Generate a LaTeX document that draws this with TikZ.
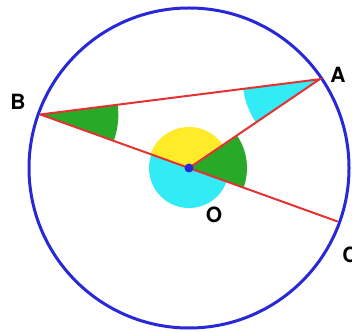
\documentclass[tikz,border=0pt]{standalone}
\usepackage{fontspec}
\setmainfont{TeX Gyre Heros}
\usetikzlibrary{calc}
\definecolor{ringblue}{RGB}{40,40,215}
\definecolor{chordred}{RGB}{228,50,50}
\definecolor{wedgegreen}{RGB}{40,170,40}
\definecolor{wedgecyan}{RGB}{50,235,245}
\definecolor{wedgeyellow}{RGB}{255,235,40}

\begin{document}
\begin{tikzpicture}[x=1pt, y=1pt,
    chord/.style={draw=chordred, line width=2pt},
    lbl/.style={font=\bfseries\fontsize{21}{21}\selectfont, inner sep=0pt}]
    \useasboundingbox (0,0) rectangle (352,331);
    \coordinate (O) at (189,163);
    \coordinate (A) at ($(O)+(34.2:158)$);
    \coordinate (B) at ($(O)+(160.2:158)$);
    \coordinate (C) at ($(O)+(-19.8:158)$);
    % angle wedges
    \fill[wedgeyellow] (O) -- +(34.2:41) arc[start angle=34.2, end angle=160.2, radius=41] -- cycle;
    \fill[wedgecyan] (O) -- +(160.2:40) arc[start angle=160.2, end angle=340.2, radius=40] -- cycle;
    \fill[wedgegreen] (O) -- +(-19.8:58) arc[start angle=-19.8, end angle=34.2, radius=58] -- cycle;
    \fill[wedgegreen] (B) -- +(-19.8:78) arc[start angle=-19.8, end angle=7.2, radius=78] -- cycle;
    \fill[wedgecyan] (A) -- +(187.2:77) arc[start angle=187.2, end angle=214.2, radius=77] -- cycle;
    % circle and chords
    \draw[ringblue, line width=3pt] (O) circle[radius=160];
    \draw[chord] (B) -- (A) -- (O);
    \draw[chord] (B) -- (C);
    \fill[ringblue] (O) circle[radius=4.5];
    \node[lbl] (labA) at (338,256) {A};
    \node[lbl] (labB) at (18,229) {B};
    \node[lbl] (labO) at (214,116) {O};
    \node[lbl] (labC) at (350,76) {C};
\end{tikzpicture}
\end{document}
